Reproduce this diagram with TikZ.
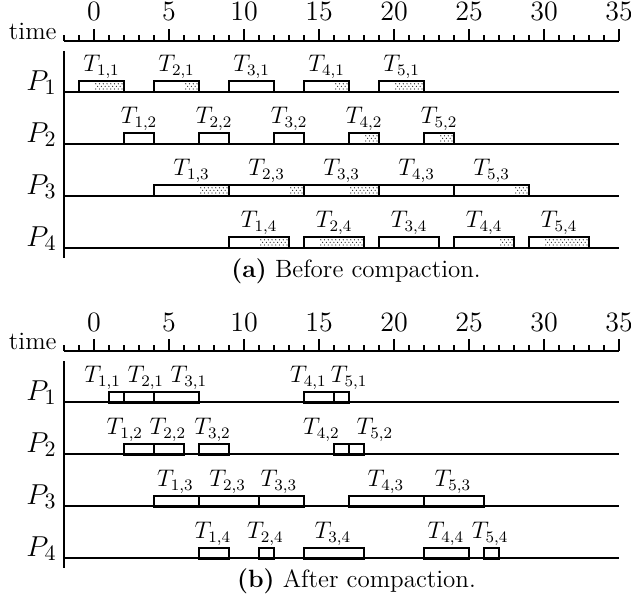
\documentclass[tikz,border=0pt]{standalone}
\usetikzlibrary{calc}
\tikzset{
  axisline/.style={draw=black, line width=0.6pt},
  taskbox/.style={draw=black, line width=0.6pt},
  dotc/.style={fill=black!85},
  numlbl/.style={inner sep=0pt, anchor=base, font=\fontsize{14}{16}\selectfont},
  timelbl/.style={inner sep=0pt, anchor=base east, font=\fontsize{12.5}{14}\selectfont},
  plbl/.style={inner sep=0pt, anchor=base east, font=\fontsize{15}{17}\selectfont},
  tlbl/.style={inner sep=0pt, anchor=base, font=\fontsize{12}{14}\selectfont},
  caplbl/.style={inner sep=0pt, anchor=base, font=\fontsize{12.5}{14}\selectfont},
}
\newcommand\slackdots[3]{%
  \begin{scope}
    \clip ({#1+0.04},{#3-10}) rectangle ({#2-0.04},{#3-1.2});
    \pgfmathtruncatemacro\nn{(#2-#1)*4}
    \foreach \k in {0,...,\nn}{
      \fill[dotc] ({#1+0.12+\k*0.25},{#3-8.2}) circle[radius=0.33pt];
      \fill[dotc] ({#1+0.245+\k*0.25},{#3-5.6}) circle[radius=0.33pt];
      \fill[dotc] ({#1+0.12+\k*0.25},{#3-3}) circle[radius=0.33pt];
    }
  \end{scope}}
\newcommand\timeaxis[2]{%
  \draw[axisline] (-2,#1) -- (35,#1);
  \foreach \t in {-2,...,35} {\draw[axisline] (\t,#1) -- (\t,{#1-6});}
  \foreach \t in {0,5,...,35} {\draw[axisline] (\t,#1) -- (\t,{#1-12});
    \node[numlbl] (#2n\t) at (\t,{#1-20}) {\t};}
  \node[timelbl] (#2time) at (-2.47,{#1-1.5}) {time};
}
\newcommand\proclines[2]{%
  \draw[axisline] (-2,{#1+10}) -- (-2,{#1+217});
  \foreach \p in {1,2,3,4} {
    \draw[axisline] (-2,{#1+51+52*(\p-1)}) -- (35,{#1+51+52*(\p-1)});
    \node[plbl] (#2p\p) at (-2.47,{#1+49.5+52*(\p-1)}) {$P_{\p}$};
  }
}
\begin{document}
\begin{tikzpicture}[x=7.5pt, y=-0.5pt]
\useasboundingbox (-6.2667,0) rectangle (35.8,604);
% ---------------- (a) before compaction
\timeaxis{41}{a}
\proclines{41}{a}
\foreach \s/\e/\y in {0/2/92, 6/7/92, 16/17/92, 20/22/92,
  18/19/144, 23/24/144,
  7/9/196, 13/14/196, 17/19/196, 28/29/196,
  11/13/248, 15/18/248, 27/28/248, 30/33/248}
  {\slackdots{\s}{\e}{\y}}
\foreach \s/\e/\i/\j/\y in {
  -1/2/1/1/92, 4/7/2/1/92, 9/12/3/1/92, 14/17/4/1/92, 19/22/5/1/92,
  2/4/1/2/144, 7/9/2/2/144, 12/14/3/2/144, 17/19/4/2/144, 22/24/5/2/144,
  4/9/1/3/196, 9/14/2/3/196, 14/19/3/3/196, 19/24/4/3/196, 24/29/5/3/196,
  9/13/1/4/248, 14/18/2/4/248, 19/23/3/4/248, 24/28/4/4/248, 29/33/5/4/248}
{
  \draw[taskbox] (\s,\y) rectangle (\e,{\y-11});
  \node[tlbl] (a\i\j) at ({(\s+\e)/2},{\y-20.5}) {$T_{\i,\j}$};
}
\node[caplbl] (capa) at (17.47,277) {\textbf{(a)} Before compaction.};
% ---------------- (b) after compaction
\timeaxis{351}{b}
\proclines{351}{b}
\foreach \s/\e/\i/\j/\y/\lx in {
  1/2/1/1/403/0.57, 2/4/2/1/403/3.45, 4/7/3/1/403/6.33, 14/16/4/1/403/14.29, 16/17/5/1/403/17.0,
  2/4/1/2/455/2.05, 4/6/2/2/455/4.93, 7/9/3/2/455/7.9, 16/17/4/2/455/15.15, 17/18/5/2/455/18.73,
  4/7/1/3/507/5.42, 7/11/2/3/507/8.91, 11/14/3/3/507/12.32, 17/22/4/3/507/19.45, 22/26/5/3/507/23.93,
  7/9/1/4/559/7.93, 11/12/2/4/559/11.43, 14/18/3/4/559/15.93, 22/25/4/4/559/23.45, 26/27/5/4/559/26.4}
{
  \draw[taskbox] (\s,\y) rectangle (\e,{\y-11});
  \node[tlbl] (b\i\j) at (\lx,{\y-20.5}) {$T_{\i,\j}$};
}
\node[caplbl] (capb) at (17.5,587) {\textbf{(b)} After compaction.};
\end{tikzpicture}
\end{document}
